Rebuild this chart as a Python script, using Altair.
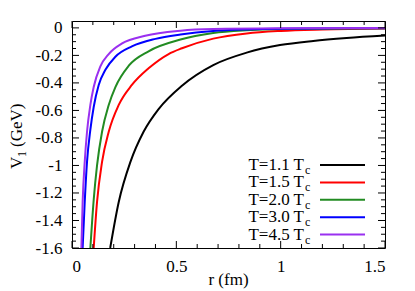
import altair as alt
import pandas as pd

# ---------------- data ----------------
series = ["1.1", "1.5", "2.0", "3.0", "4.5"]
colors = ["#000000", "#ff0000", "#228b22", "#0000ff", "#9a30f0"]

r_11 = [0.183, 0.224, 0.28, 0.343, 0.415, 0.527, 0.677, 0.837, 0.997, 1.156, 1.316, 1.5]
v_11 = [-1.60, -1.265, -0.974, -0.755, -0.59, -0.42, -0.27, -0.18, -0.125, -0.095, -0.074, -0.056]

r_15 = [0.104, 0.12, 0.144, 0.176, 0.224, 0.287, 0.367, 0.463, 0.527, 0.677, 0.837, 1.0, 1.2, 1.5]
v_15 = [-1.60, -1.265, -0.974, -0.755, -0.56, -0.415, -0.294, -0.19, -0.148, -0.078, -0.04, -0.022, -0.012, -0.005]

r_20 = [0.088, 0.104, 0.12, 0.144, 0.176, 0.208, 0.272, 0.367, 0.52, 0.677, 0.837, 1.0, 1.5]
v_20 = [-1.60, -1.25, -1.0, -0.755, -0.56, -0.43, -0.275, -0.17, -0.085, -0.038, -0.018, -0.009, -0.003]

r_30 = [0.051, 0.061, 0.072, 0.088, 0.104, 0.128, 0.16, 0.208, 0.287, 0.4, 0.52, 0.677, 0.837, 1.0, 1.5]
v_30 = [-1.60, -1.265, -0.974, -0.74, -0.575, -0.415, -0.305, -0.21, -0.135, -0.08, -0.048, -0.022, -0.011, -0.006, -0.002]

r_45 = [0.045, 0.051, 0.061, 0.072, 0.088, 0.104, 0.136, 0.176, 0.24, 0.351, 0.52, 0.677, 1.0, 1.5]
v_45 = [-1.60, -1.265, -0.974, -0.755, -0.56, -0.43, -0.28, -0.19, -0.113, -0.057, -0.02, -0.008, -0.003, -0.001]

legend_main = ["T=1.1 T", "T=1.5 T", "T=2.0 T", "T=3.0 T", "T=4.5 T"]
legend_sub = ["c", "c", "c", "c", "c"]

x_major = [0, 0.5, 1, 1.5]
x_minor = [0.1, 0.2, 0.3, 0.4, 0.6, 0.7, 0.8, 0.9, 1.1, 1.2, 1.3, 1.4]
y_major = [0, -0.2, -0.4, -0.6, -0.8, -1, -1.2, -1.4, -1.6]
y_minor = [-0.05, -0.1, -0.15, -0.25, -0.3, -0.35, -0.45, -0.5, -0.55, -0.65, -0.7, -0.75,
           -0.85, -0.9, -0.95, -1.05, -1.1, -1.15, -1.25, -1.3, -1.35, -1.45, -1.5, -1.55]

# ---------------- build tables ----------------
rs = [r_11, r_15, r_20, r_30, r_45]
vs = [v_11, v_15, v_20, v_30, v_45]
rows = []
for s, rr, vv in zip(series, rs, vs):
    for i, (a, b) in enumerate(zip(rr, vv)):
        rows.append({"T": s, "r": a, "V": b, "o": i})
df = pd.DataFrame(rows)

W, H = 313, 227
FONT = "Times New Roman"
XD = [0, 1.5]
YD = [-1.6, 0.05]

xs = alt.Scale(domain=XD, nice=False, zero=False)
ys = alt.Scale(domain=YD, nice=False, zero=False)
cs = alt.Scale(domain=series, range=colors)

ax_x = alt.Axis(values=x_major, format="~g", ticks=False, domain=False, grid=False,
                labelOverlap=False, labelFont=FONT, labelFontSize=17, labelColor="black",
                labelPadding=10, title=None)
ax_y = alt.Axis(values=y_major, ticks=False, domain=False, grid=False, labelOverlap=False,
                labelExpr="(datum.value < 0 ? '-' : '') + format(abs(datum.value), '~g')",
                labelFont=FONT, labelFontSize=17, labelColor="black",
                labelPadding=10, title=None)

curves = alt.Chart(df).mark_line(clip=True, strokeWidth=2, interpolate="monotone").encode(
    x=alt.X("r:Q", scale=xs, axis=ax_x),
    y=alt.Y("V:Q", scale=ys, axis=ax_y),
    color=alt.Color("T:N", scale=cs, legend=None),
    order="o:Q",
)

layers = [curves]

# inward ticks on all four sides
def xticks(vals, length):
    d = pd.DataFrame({"r": vals})
    bot = alt.Chart(d).mark_rule(color="black", strokeWidth=1).encode(
        x=alt.X("r:Q", scale=xs, axis=ax_x), y=alt.value(H), y2=alt.value(H - length))
    top = alt.Chart(d).mark_rule(color="black", strokeWidth=1).encode(
        x=alt.X("r:Q", scale=xs, axis=ax_x), y=alt.value(0), y2=alt.value(length))
    return [bot, top]

def yticks(vals, length):
    d = pd.DataFrame({"V": vals})
    left = alt.Chart(d).mark_rule(color="black", strokeWidth=1).encode(
        y=alt.Y("V:Q", scale=ys, axis=ax_y), x=alt.value(0), x2=alt.value(length))
    right = alt.Chart(d).mark_rule(color="black", strokeWidth=1).encode(
        y=alt.Y("V:Q", scale=ys, axis=ax_y), x=alt.value(W), x2=alt.value(W - length))
    return [left, right]

layers += xticks(x_major, 7) + xticks(x_minor, 4) + yticks(y_major, 7) + yticks(y_minor, 4)

one = pd.DataFrame({"k": [0]})

# legend (inside, bottom right)
LY0, LSTEP = 144, 17.4
for i, (s, m, sub) in enumerate(zip(series, legend_main, legend_sub)):
    ly = LY0 + i * LSTEP
    layers.append(alt.Chart(one).mark_text(font=FONT, fontSize=17, align="right", baseline="alphabetic", color="black").encode(
        x=alt.value(232), y=alt.value(ly + 5), text=alt.value(m)))
    layers.append(alt.Chart(one).mark_text(font=FONT, fontSize=12, align="left", baseline="alphabetic", color="black").encode(
        x=alt.value(233), y=alt.value(ly + 9), text=alt.value(sub)))
    layers.append(alt.Chart(one).mark_rule(strokeWidth=2, color=colors[i]).encode(
        x=alt.value(248), x2=alt.value(293), y=alt.value(ly)))

# axis titles
layers.append(alt.Chart(one).mark_text(font=FONT, fontSize=17, align="center", baseline="alphabetic", color="black").encode(
    x=alt.value(W / 2), y=alt.value(264), text=alt.value("r (fm)")))
layers.append(alt.Chart(one).mark_text(font=FONT, fontSize=17, align="left", baseline="alphabetic", color="black", angle=270).encode(
    x=alt.value(-50), y=alt.value(148), text=alt.value("V")))
layers.append(alt.Chart(one).mark_text(font=FONT, fontSize=12, align="left", baseline="alphabetic", color="black", angle=270).encode(
    x=alt.value(-46), y=alt.value(136), text=alt.value("1")))
layers.append(alt.Chart(one).mark_text(font=FONT, fontSize=17, align="left", baseline="alphabetic", color="black", angle=270).encode(
    x=alt.value(-50), y=alt.value(126), text=alt.value("(GeV)")))

chart = alt.layer(*layers).properties(
    width=W, height=H,
    autosize=alt.AutoSizeParams(type="none"),
    padding={"left": 64, "top": 13, "right": 22, "bottom": 44},
).configure_view(stroke="black", strokeWidth=1)

chart.save("out.html", embed_options={"renderer": "svg", "actions": False})
